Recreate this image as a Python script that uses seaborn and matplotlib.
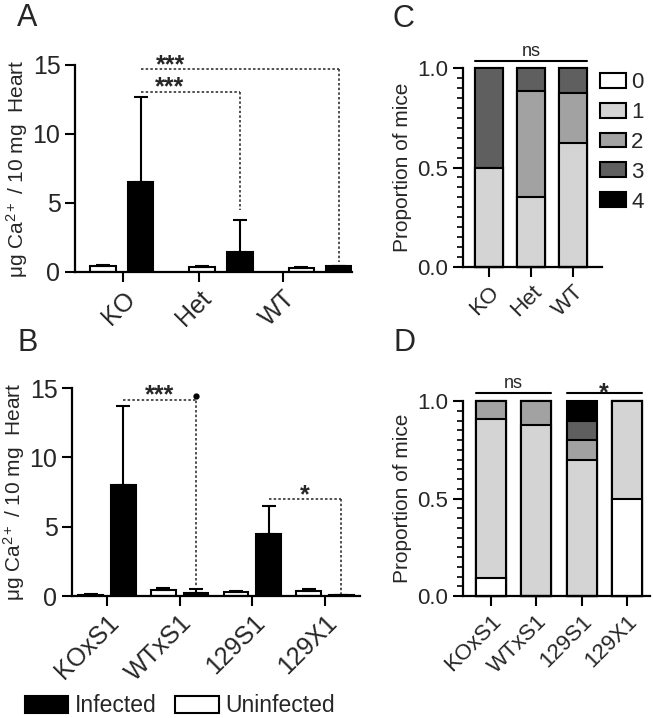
import numpy as np
import pandas as pd
import matplotlib
matplotlib.use('Agg')
import matplotlib.pyplot as plt
import seaborn as sns
from matplotlib.patches import Patch
from matplotlib.ticker import MultipleLocator, FormatStrFormatter

# A. Kalsium jantung, KO / Het / WT
a_groups = ['KO', 'Het', 'WT']
a_uninf = [0.4, 0.35, 0.3]
a_uninf_err = [0.1, 0.05, 0.05]
a_inf = [6.5, 1.45, 0.4]
a_inf_err = [6.2, 2.3, 0.05]

# B. Kalsium jantung, strain
b_groups = ['KOxS1', 'WTxS1', '129S1', '129X1']
b_uninf = [0.1, 0.4, 0.3, 0.35]
b_uninf_err = [0.05, 0.15, 0.05, 0.15]
b_inf = [8.0, 0.25, 4.5, 0.05]
b_inf_err = [5.7, 0.25, 2.0, 0.0]

# C / D. proporsi mencit per skor
score_labels = ['0', '1', '2', '3', '4']
score_colors = ['white', '#d4d4d4', '#a2a2a2', '#5f5f5f', 'black']

c_groups = ['KO', 'Het', 'WT']
c_s0 = [0.0, 0.0, 0.0]
c_s1 = [0.5, 0.35, 0.625]
c_s2 = [0.0, 0.535, 0.25]
c_s3 = [0.5, 0.115, 0.125]
c_s4 = [0.0, 0.0, 0.0]

d_groups = ['KOxS1', 'WTxS1', '129S1', '129X1']
d_s0 = [0.09, 0.0, 0.0, 0.5]
d_s1 = [0.82, 0.875, 0.7, 0.5]
d_s2 = [0.09, 0.125, 0.1, 0.0]
d_s3 = [0.0, 0.0, 0.1, 0.0]
d_s4 = [0.0, 0.0, 0.1, 0.0]

sns.set_theme(style='ticks')
plt.rcParams['font.family'] = ['Liberation Sans', 'DejaVu Sans']
plt.rcParams['mathtext.fontset'] = 'custom'
plt.rcParams['mathtext.rm'] = 'Liberation Sans'
plt.rcParams['mathtext.it'] = 'Liberation Sans:italic'
plt.rcParams['axes.linewidth'] = 1.6
plt.rcParams['axes.edgecolor'] = 'black'

fig = plt.figure(figsize=(6.53, 7.18), dpi=100)
axA = fig.add_axes([0.1149, 0.6212, 0.4242, 0.2883])
axB = fig.add_axes([0.1103, 0.1699, 0.4410, 0.2897])
axC = fig.add_axes([0.7090, 0.6281, 0.2129, 0.2772])
axD = fig.add_axes([0.7090, 0.1699, 0.2864, 0.2716])

ylab = r'μg Ca$^{2+}$ / 10 mg  Heart'


def rotate_labels(ax):
    for lab in ax.get_xticklabels():
        lab.set_rotation(45)
        lab.set_ha('right')
        lab.set_rotation_mode('anchor')


def bar_panel(ax, groups, uninf, uninf_err, inf, inf_err, width, gap):
    df = pd.DataFrame({
        'group': groups * 2,
        'status': ['Uninfected'] * len(groups) + ['Infected'] * len(groups),
        'value': uninf + inf,
    })
    sns.barplot(data=df, x='group', y='value', hue='status',
                hue_order=['Uninfected', 'Infected'],
                palette={'Uninfected': 'white', 'Infected': 'black'},
                saturation=1, edgecolor='black', linewidth=1.5,
                width=width, gap=gap, errorbar=None, legend=False, ax=ax)
    centers = []
    for cont, errs in zip(ax.containers, [uninf_err, inf_err]):
        xs = [p.get_x() + p.get_width() / 2 for p in cont]
        hs = [p.get_height() for p in cont]
        ax.errorbar(xs, hs, yerr=[np.zeros(len(errs)), errs], fmt='none',
                    ecolor='black', elinewidth=1.5, capsize=5, capthick=1.5)
        centers.append(xs)
    ax.set_ylim(0, 15)
    ax.set_yticks([0, 5, 10, 15])
    ax.set_xlabel('')
    ax.set_ylabel(ylab, fontsize=15, labelpad=2)
    ax.tick_params(axis='both', labelsize=18, length=7, width=1.5, color='black')
    rotate_labels(ax)
    sns.despine(ax=ax)
    return centers


def sig_bracket(ax, x0, x1, y, y_drop, label, frac=0.5, dot=False, dy=-0.2):
    top = y + 0.3 if dot else y
    ax.plot([x0, x1], [y, y], ls=(0, (1.5, 1.3)), color='0.2', lw=1.2, clip_on=False)
    ax.plot([x1, x1], [top, y_drop], ls=(0, (1.5, 1.3)), color='0.2', lw=1.2, clip_on=False)
    if dot:
        ax.plot(x1, top, marker='o', ms=3.5, color='black', clip_on=False)
    ax.text(x0 + frac * (x1 - x0), y + dy, label, ha='center', va='baseline',
            fontsize=18, fontweight='bold')


cA = bar_panel(axA, a_groups, a_uninf, a_uninf_err, a_inf, a_inf_err, 0.76, 0.32)
axA.set_xlim(-0.47, 2.32)
axA.set_xticks([0.01, 0.78, 1.62], a_groups)
rotate_labels(axA)
sig_bracket(axA, cA[1][0], cA[1][2], 14.7, 0.7, '***', frac=0.15)
sig_bracket(axA, cA[1][0], cA[1][1], 13.05, 4.5, '***', frac=0.29)

cB = bar_panel(axB, b_groups, b_uninf, b_uninf_err, b_inf, b_inf_err, 0.9, 0.24)
axB.set_xlim(-0.48, 3.48)
sig_bracket(axB, cB[1][0], cB[1][1], 14.15, 0.65, '***', dot=True)
sig_bracket(axB, cB[1][2], cB[1][3], 6.97, 0.17, '*')


def stacked_panel(ax, groups, segs, width):
    cum = np.cumsum(np.array(segs), axis=0)
    for i in range(len(segs) - 1, -1, -1):
        sns.barplot(x=groups, y=cum[i], color=score_colors[i], saturation=1,
                    edgecolor='black', linewidth=1.5, width=width, ax=ax)
    for p in ax.patches:
        p.set_clip_on(False)
    ax.set_ylim(0, 1.0)
    ax.set_yticks([0, 0.5, 1.0])
    ax.yaxis.set_major_formatter(FormatStrFormatter('%.1f'))
    ax.yaxis.set_minor_locator(MultipleLocator(0.05))
    ax.set_ylabel('Proportion of mice', fontsize=15)
    ax.tick_params(axis='both', which='major', labelsize=16, length=7, width=1.5, color='black')
    ax.tick_params(axis='y', which='minor', length=4, width=1.2, color='black', left=True)
    rotate_labels(ax)
    sns.despine(ax=ax)
    top_bars = ax.containers[0]
    return [(p.get_x(), p.get_x() + p.get_width()) for p in top_bars]


def group_line(ax, x0, x1, label, y=1.04, bold=False):
    ax.plot([x0, x1], [y, y], color='black', lw=1.5, clip_on=False)
    if bold:
        ax.text((x0 + x1) / 2, y - 0.035, label, ha='center', va='baseline',
                fontsize=18, fontweight='bold')
    else:
        ax.text((x0 + x1) / 2, y + 0.005, label, ha='center', va='bottom', fontsize=13)


eC = stacked_panel(axC, c_groups, [c_s0, c_s1, c_s2, c_s3, c_s4], 0.67)
axC.set_xlim(-0.62, 2.69)
group_line(axC, eC[0][0], eC[2][1], 'ns', y=1.035)

eD = stacked_panel(axD, d_groups, [d_s0, d_s1, d_s2, d_s3, d_s4], 0.66)
axD.set_xlim(-0.62, 3.51)
group_line(axD, eD[0][0], eD[1][1], 'ns')
group_line(axD, eD[2][0], eD[3][1], '*', bold=True)

# legenda skor (C)
fig.legend(handles=[Patch(facecolor=c, edgecolor='black', linewidth=1.5) for c in score_colors],
           labels=score_labels, loc='upper left', bbox_to_anchor=(600 / 653, 1 - 72 / 718),
           frameon=False, fontsize=16, handlelength=1.15, handleheight=0.65,
           handletextpad=0.25, labelspacing=0.4, borderpad=0, borderaxespad=0)

# legenda infeksi (bawah)
fig.legend(handles=[Patch(facecolor='black', edgecolor='black', linewidth=1.5),
                    Patch(facecolor='white', edgecolor='black', linewidth=1.5)],
           labels=['Infected', 'Uninfected'], ncol=2, loc='center',
           bbox_to_anchor=(180 / 653, 1 - 706 / 718), frameon=False, fontsize=16.5,
           handlelength=1.9, handleheight=0.8, handletextpad=0.3, columnspacing=0.8,
           borderpad=0)

for letter, x, y in [('A', 17, 18), ('B', 17, 343), ('C', 392, 19), ('D', 393, 343)]:
    fig.text(x / 653, 1 - y / 718, letter, fontsize=22, va='center', ha='left')

fig.savefig('out.png', dpi=100)
